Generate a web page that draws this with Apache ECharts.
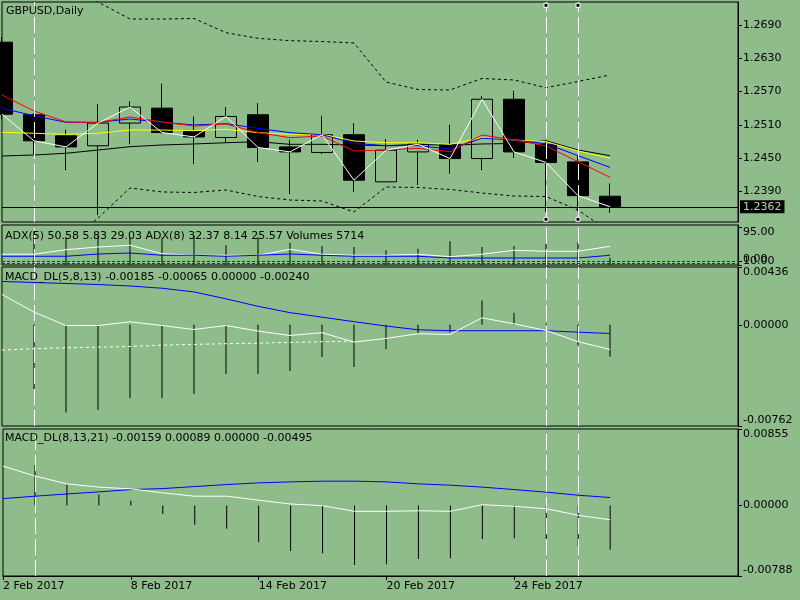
<!DOCTYPE html>
<html><head><meta charset="utf-8">
<script src="https://cdn.jsdelivr.net/npm/echarts@6.0.0/dist/echarts.min.js"></script>
<style>html,body{margin:0;padding:0;background:#8fbc8b}#chart{width:800px;height:600px}</style>
</head><body><div id="chart"></div>
<script>
// ---------- data ----------
const dates = ['2 Feb 2017','3 Feb 2017','6 Feb 2017','7 Feb 2017','8 Feb 2017','9 Feb 2017','10 Feb 2017','13 Feb 2017','14 Feb 2017','15 Feb 2017','16 Feb 2017','17 Feb 2017','20 Feb 2017','21 Feb 2017','22 Feb 2017','23 Feb 2017','24 Feb 2017','27 Feb 2017','28 Feb 2017','1 Mar 2017'];
const futureDates = ['2 Mar 2017','3 Mar 2017','6 Mar 2017','7 Mar 2017'];
const markerDates = ['3 Feb 2017','27 Feb 2017','28 Feb 2017'];

const open  = [1.2659,1.2528,1.2490,1.2472,1.2513,1.2540,1.2498,1.2487,1.2528,1.2470,1.2460,1.2492,1.2407,1.2461,1.2474,1.2449,1.2556,1.2475,1.2443,1.2381];
const close = [1.2529,1.2481,1.2470,1.2513,1.2542,1.2496,1.2488,1.2525,1.2469,1.2461,1.2492,1.2410,1.2464,1.2475,1.2449,1.2556,1.2461,1.2442,1.2382,1.2362];
const high  = [1.2668,1.2531,1.2501,1.2547,1.2552,1.2584,1.2525,1.2542,1.2549,1.2483,1.2526,1.2513,1.2484,1.2483,1.2510,1.2562,1.2571,1.2481,1.2455,1.2404];
const low   = [1.2520,1.2457,1.2428,1.2347,1.2475,1.2494,1.2439,1.2478,1.2443,1.2385,1.2457,1.2389,1.2407,1.2401,1.2422,1.2428,1.2450,1.2353,1.2354,1.2351];

const maRed    = [1.25637,1.25348,1.25150,1.25141,1.25240,1.25150,1.25077,1.25114,1.24960,1.24866,1.24897,1.24626,1.24644,1.24675,1.24614,1.24915,1.24825,1.24717,1.24433,1.24152];
const maBlue   = [1.25397,1.25263,1.25144,1.25144,1.25204,1.25144,1.25096,1.25119,1.25036,1.24957,1.24921,1.24765,1.24722,1.24722,1.24662,1.24856,1.24825,1.24758,1.24542,1.24332];
const maYellow = [1.24964,1.24946,1.24928,1.24946,1.25005,1.25005,1.24993,1.25018,1.24957,1.24928,1.24928,1.24807,1.24776,1.24776,1.24747,1.24866,1.24825,1.24794,1.24626,1.24495];
const maBlack  = [1.24536,1.24554,1.24585,1.24644,1.24704,1.24735,1.24753,1.24776,1.24794,1.24747,1.24747,1.24735,1.24722,1.24747,1.24729,1.24753,1.24762,1.24812,1.24644,1.24542];
const bandUpper = [1.28073,1.27802,1.27532,1.27315,1.27008,1.27008,1.27017,1.26761,1.26660,1.26617,1.26602,1.26575,1.25871,1.25736,1.25727,1.25935,1.25908,1.25769,1.25880,1.25998];
const bandLower = [1.22659,1.22840,1.22930,1.23417,1.23959,1.23887,1.23878,1.23923,1.23805,1.23742,1.23724,1.23526,1.23977,1.23968,1.23932,1.23868,1.23814,1.23805,1.23562,1.23165];

const priceTicks = [1.2390,1.2450,1.2510,1.2570,1.2630,1.2690];
const PRICE_MIN = 1.233452, PRICE_MAX = 1.273150;

const adxMain = [26.8,26.8,38.3,45.0,49.3,28.3,24.3,24.3,24.3,39.3,26.8,24.3,24.3,26.8,20.8,26.8,36.8,34.3,34.3,46.8];
const adxSecond = [21.8,21.8,21.8,27.5,30.0,24.3,24.3,21.8,24.3,27.5,24.3,21.8,21.8,21.8,17.5,17.5,17.5,17.5,17.5,24.3];
const adxLevels = [9.4,4.3];
const volumes = [null,26960,22400,23760,22400,21840,23760,15760,22400,17840,15200,14400,11760,13040,18960,14400,15200,17040,18400,5714];

const macd1Hist   = [null,-0.00486,-0.00661,-0.00642,-0.00552,-0.00552,-0.00521,-0.00371,-0.00371,-0.00348,-0.00243,-0.00318,-0.00183,-0.00067,-0.00055,0.00184,0.00091,0.00010,-0.00153,-0.00240];
const macd1Main   = [0.00229,0.00096,-0.00005,-0.00005,0.00023,-0.00005,-0.00035,-0.00005,-0.00047,-0.00080,-0.00059,-0.00130,-0.00102,-0.00067,-0.00072,0.00053,0.00008,-0.00042,-0.00127,-0.00185];
const macd1Signal = [0.00327,0.00319,0.00312,0.00304,0.00293,0.00276,0.00248,0.00196,0.00140,0.00092,0.00058,0.00024,-0.00009,-0.00037,-0.00044,-0.00044,-0.00044,-0.00044,-0.00055,-0.00065];
const macd1Dashed = [-0.00190,-0.00180,-0.00172,-0.00168,-0.00163,-0.00153,-0.00147,-0.00142,-0.00138,-0.00132,-0.00127,-0.00123,null,null,null,null,null,null,null,null];

const macd2Hist   = [null,0.00452,0.00234,0.00122,0.00054,-0.00096,-0.00216,-0.00261,-0.00411,-0.00509,-0.00535,-0.00666,-0.00658,-0.00599,-0.00591,-0.00374,-0.00366,-0.00374,-0.00459,-0.00495];
const macd2Main   = [0.00441,0.00329,0.00242,0.00205,0.00186,0.00141,0.00104,0.00104,0.00059,0.00017,-0.00002,-0.00065,-0.00065,-0.00059,-0.00065,0.00009,-0.00009,-0.00036,-0.00110,-0.00159];
const macd2Signal = [0.00077,0.00104,0.00129,0.00152,0.00178,0.00189,0.00212,0.00234,0.00253,0.00264,0.00272,0.00272,0.00264,0.00242,0.00227,0.00205,0.00178,0.00149,0.00115,0.00089];

const titles = ['GBPUSD,Daily',
  'ADX(5) 50.58 5.83 29.03 ADX(8) 32.37 8.14 25.57 Volumes 5714',
  'MACD_DL(5,8,13) -0.00185 -0.00065 0.00000 -0.00240',
  'MACD_DL(8,13,21) -0.00159 0.00089 0.00000 -0.00495'];

// ---------- chart ----------
const FONT = 'DejaVu Sans';
const categories = dates.concat(futureDates);
const candleData = open.map((o, i) => [o, close[i], low[i], high[i]]);
const lastClose = close[close.length - 1];
const pr = PRICE_MAX - PRICE_MIN;
const sqTop = PRICE_MAX - pr * 3.3 / 220, sqBot = PRICE_MIN + pr * 2.7 / 220;

const gridDefs = [
  {top: 2, height: 220}, {top: 225, height: 40}, {top: 267, height: 159}, {top: 429, height: 147}
];
const grid = gridDefs.map(g => ({left: 2, right: 62, top: g.top, height: g.height, show: true,
  borderColor: '#000', borderWidth: 1, backgroundColor: 'transparent', containLabel: false}));

const xAxis = gridDefs.map((g, gi) => ({
  type: 'category', gridIndex: gi, data: categories, boundaryGap: false,
  axisLine: {show: gi === 3, onZero: false, lineStyle: {color: '#000'}},
  axisTick: {show: gi === 3, length: 4, lineStyle: {color: '#000'}, interval: (i) => i % 4 === 0 && i < dates.length},
  axisLabel: {show: gi === 3, interval: 3, align: 'left', margin: 5, color: '#000', fontFamily: FONT, fontSize: 11,
    formatter: (v, i) => i < dates.length ? v : ''},
  splitLine: {show: false}
}));

const lab = {color: '#000', fontFamily: FONT, fontSize: 11, margin: 5};
function mainY(gi, min, max, ticks, labels, digits) {
  return {type: 'value', gridIndex: gi, position: 'right', min, max,
    axisLine: {show: true, onZero: false, lineStyle: {color: '#000'}},
    axisTick: {show: true, customValues: ticks, length: 4, lineStyle: {color: '#000'}},
    splitLine: {show: false},
    axisLabel: Object.assign({show: labels.length > 0, customValues: labels, formatter: v => Number(v).toFixed(digits)}, lab)};
}
function labY(gi, min, max, labels, digits, vAlign) {
  return {type: 'value', gridIndex: gi, position: 'right', min, max,
    axisLine: {show: false}, axisTick: {show: false}, splitLine: {show: false},
    axisLabel: Object.assign({customValues: labels, verticalAlign: vAlign, formatter: v => Number(v).toFixed(digits)}, lab)};
}
const yAxis = [
  mainY(0, PRICE_MIN, PRICE_MAX, priceTicks, priceTicks, 4),            // 0
  mainY(1, 0, 100, [95, 20, 10, 0], [20, 10], 2),                         // 1
  labY(1, 0, 100, [95], 2, 'top'),                                        // 2
  labY(1, 0, 100, [0], 2, 'bottom'),                                      // 3
  {type: 'value', gridIndex: 1, min: 0, max: 32000, show: false},         // 4 volumes
  mainY(2, -0.00762, 0.00436, [0.00436, 0, -0.00762], [0], 5),            // 5
  labY(2, -0.00762, 0.00436, [0.00436], 5, 'top'),                        // 6
  labY(2, -0.00762, 0.00436, [-0.00762], 5, 'bottom'),                    // 7
  mainY(3, -0.00788, 0.00855, [0.00855, 0, -0.00788], [0], 5),            // 8
  labY(3, -0.00788, 0.00855, [0.00855], 5, 'top'),                        // 9
  labY(3, -0.00788, 0.00855, [-0.00788], 5, 'bottom')                     // 10
];

const vLineStyle = {color: '#fff', type: [16, 5], width: 1};
const vLines = {
  silent: true, symbol: ['none', 'none'], animation: false, label: {show: false}, precision: 5,
  lineStyle: vLineStyle,
  data: markerDates.map(d => ({xAxis: d}))
};
function line(xi, yi, data, color, extra) {
  return Object.assign({type: 'line', xAxisIndex: xi, yAxisIndex: yi, data, showSymbol: false, symbol: 'none',
    lineStyle: {color, width: 1}, itemStyle: {color}, animation: false, silent: true}, extra || {});
}
function hist(xi, yi, data) {
  return {type: 'bar', xAxisIndex: xi, yAxisIndex: yi, data, barWidth: 1, itemStyle: {color: '#000'}, animation: false, silent: true};
}

const series = [
  {type: 'candlestick', xAxisIndex: 0, yAxisIndex: 0, data: candleData, barWidth: 22, animation: false, silent: true,
    itemStyle: {color: 'rgba(0,0,0,0)', color0: '#000', borderColor: '#000', borderColor0: '#000', borderWidth: 1}},
  line(0, 0, bandUpper, '#000', {lineStyle: {color: '#000', width: 1, type: [3, 3]}}),
  line(0, 0, bandLower, '#000', {lineStyle: {color: '#000', width: 1, type: [3, 3]}}),
  line(0, 0, maBlack, '#000'),
  line(0, 0, maYellow, '#ffff00'),
  line(0, 0, maBlue, '#0000ff'),
  line(0, 0, maRed, '#ff0000'),
  line(0, 0, close, '#ffffff', {
    markLine: {silent: true, symbol: ['none', 'none'], animation: false, label: {show: false}, precision: 4,
      lineStyle: vLineStyle,
      data: markerDates.map(d => ({xAxis: d})).concat([{
        yAxis: lastClose,
        lineStyle: {color: '#000', type: 'solid', width: 1},
        label: {show: true, position: 'end', distance: 2, formatter: p => Number(p.value).toFixed(4),
          backgroundColor: '#000', color: '#b4d8b0', padding: [1, 3, 1, 3], fontFamily: FONT, fontSize: 11}
      }])},
    markPoint: {silent: true, animation: false, symbol: 'rect', symbolSize: 4, label: {show: false}, precision: 6,
      itemStyle: {color: '#000', borderColor: '#fff', borderWidth: 1},
      data: [{coord: [markerDates[1], sqTop]}, {coord: [markerDates[2], sqTop]},
             {coord: [markerDates[1], sqBot]}, {coord: [markerDates[2], sqBot]}]}}),

  hist(1, 4, volumes),
  line(1, 1, adxMain, '#ffffff'),
  line(1, 1, adxSecond, '#0000ff', {markLine: Object.assign({}, vLines, {
    data: markerDates.map(d => ({xAxis: d})).concat(adxLevels.map(v => ({yAxis: v, lineStyle: {color: '#005a00', type: [3, 2], width: 1}})))
  })}),

  hist(2, 5, macd1Hist),
  line(2, 5, macd1Dashed, '#ffffff', {lineStyle: {color: '#fff', width: 1, type: [3, 3]}}),
  line(2, 5, macd1Signal, '#0000ff'),
  line(2, 5, macd1Main, '#ffffff', {markLine: vLines}),

  hist(3, 8, macd2Hist),
  line(3, 8, macd2Signal, '#0000ff'),
  line(3, 8, macd2Main, '#ffffff', {markLine: vLines})
];

const titleTops = [5.5, 230.5, 271.5, 433];
const title = titles.map((t, i) => ({text: t, left: i === 0 ? 6 : 5, top: titleTops[i], padding: 0,
  textStyle: {color: '#000', fontFamily: FONT, fontSize: 11, fontWeight: 'normal'}}));

const chart = echarts.init(document.getElementById('chart'), null, {renderer: 'canvas'});
chart.setOption({
  backgroundColor: '#8fbc8b', animation: false, textStyle: {fontFamily: FONT},
  title, grid, xAxis, yAxis, series
});
</script></body></html>
